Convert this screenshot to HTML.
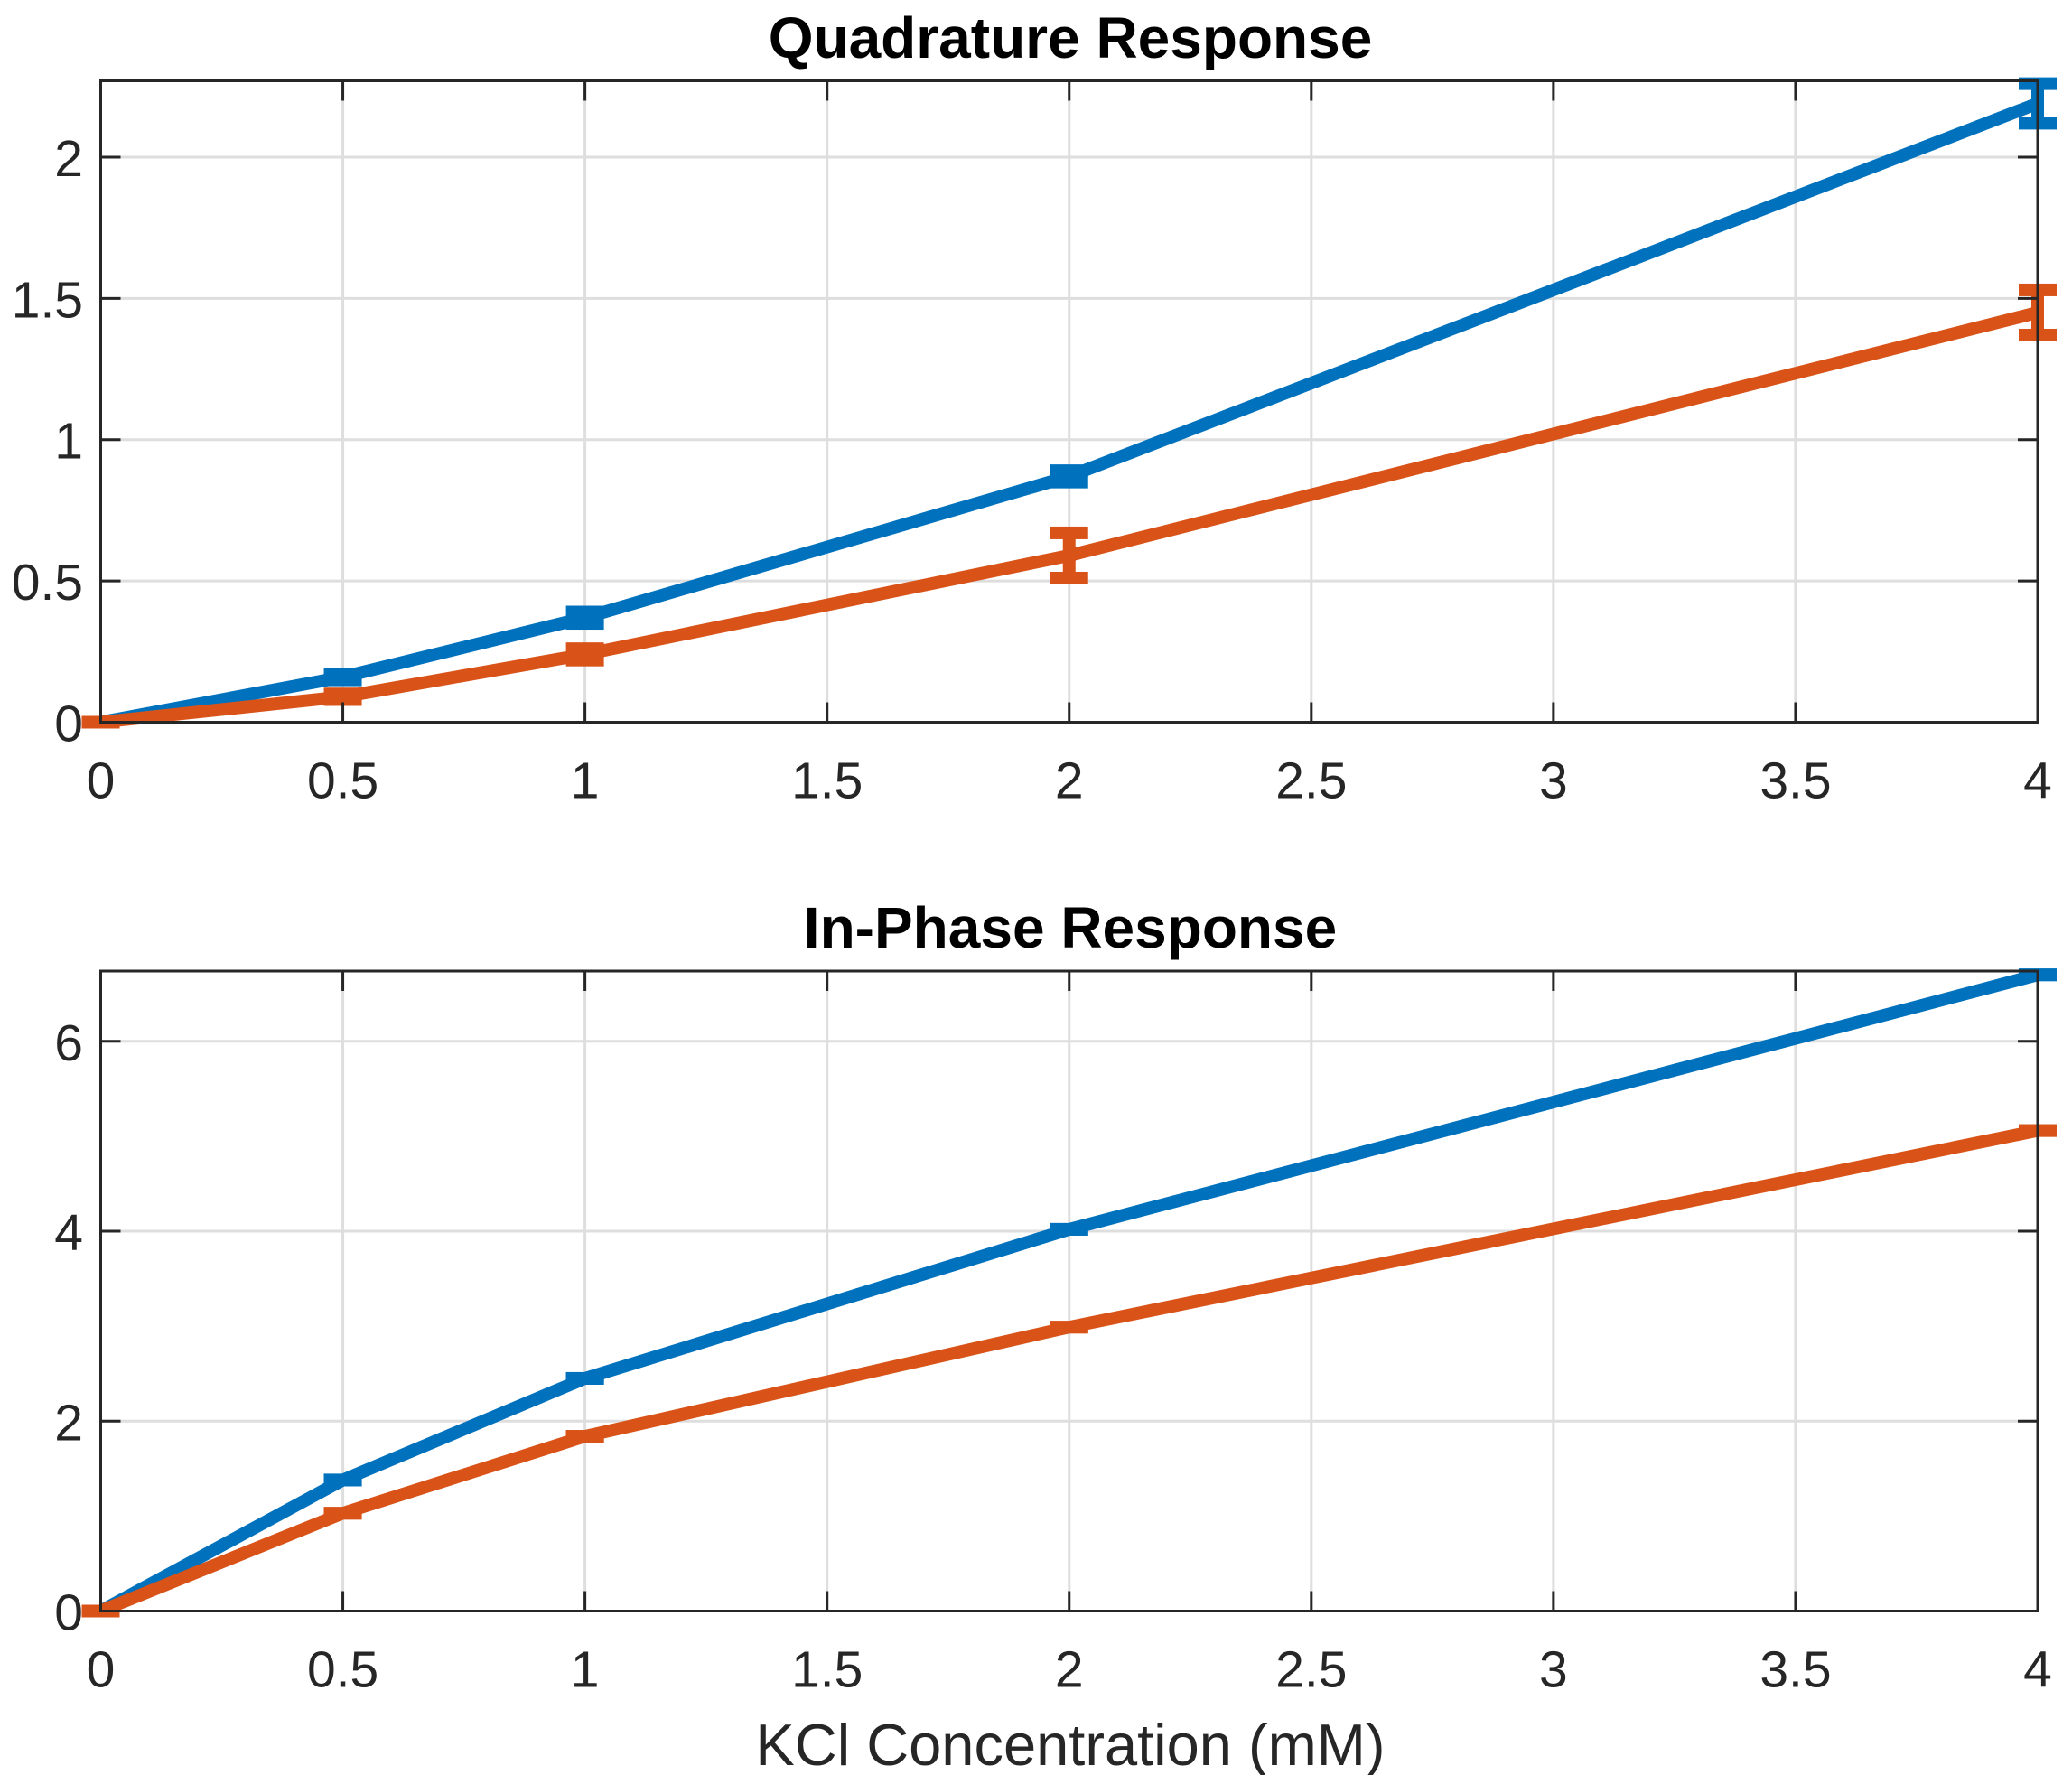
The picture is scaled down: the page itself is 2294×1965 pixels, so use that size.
<!DOCTYPE html>
<html><head><meta charset="utf-8"><style>
html,body{margin:0;padding:0;background:#fff;}
svg{display:block;font-family:"Liberation Sans",Arial,sans-serif;}
</style></head><body>
<svg id="chart" width="2294" height="1965" viewBox="0 0 2294 1965" xmlns="http://www.w3.org/2000/svg"></svg>
<script>
const xValues = [0, 0.5, 1, 2, 4];
const quadBlue = [0, 0.16, 0.37, 0.87, 2.19];
const quadBlueErr = [0, 0.01, 0.02, 0.02, 0.07];
const quadOrange = [0, 0.09, 0.24, 0.59, 1.45];
const quadOrangeErr = [0, 0.01, 0.02, 0.08, 0.08];
const phaseBlue = [0, 1.38, 2.45, 4.02, 6.7];
const phaseOrange = [0, 1.03, 1.84, 2.99, 5.06];
const xTicks = [0, 0.5, 1, 1.5, 2, 2.5, 3, 3.5, 4];
const xTickLabels = ["0","0.5","1","1.5","2","2.5","3","3.5","4"];
const quadYTicks = [0, 0.5, 1, 1.5, 2];
const quadYTickLabels = ["0","0.5","1","1.5","2"];
const phaseYTicks = [0, 2, 4, 6];
const phaseYTickLabels = ["0","2","4","6"];

const NS = "http://www.w3.org/2000/svg";
const svg = document.getElementById("chart");
const BLUE = "#0072BD", ORANGE = "#D95319";
function mk(tag, attrs, parent) {
  const e = document.createElementNS(NS, tag);
  for (const k in attrs) e.setAttribute(k, attrs[k]);
  (parent || svg).appendChild(e);
  return e;
}
function panel(cfg) {
  const g = mk("g", {});
  
  
  const L = 111.5, R = 2256, T = cfg.top, B = cfg.bottom;
  const sx = v => L + (v - 0) / 4 * (R - L);
  const sy = v => B - v / cfg.ymax * (B - T);
  xTicks.forEach(t => {
    const l = mk("line", {x1: sx(t), x2: sx(t), y1: T, y2: B, stroke: "#dedede", "stroke-width": 3}, g);
    
    
  });
  cfg.yTicks.forEach(t => {
    const l = mk("line", {x1: L, x2: R, y1: sy(t), y2: sy(t), stroke: "#dedede", "stroke-width": 3}, g);
    
    
  });
  cfg.series.forEach(s => {
    const pts = xValues.map((x, i) => sx(x) + "," + sy(s.values[i])).join(" ");
    const pl = mk("polyline", {points: pts, fill: "none", stroke: s.color, "stroke-width": 14, "stroke-linejoin": "round"}, g);
    
    
    xValues.forEach((x, i) => {
      const e = s.err ? s.err[i] : 0.0;
      const cx = sx(x);
      const yTop = sy(s.values[i] + e), yBot = sy(s.values[i] - e);
      const eg = mk("g", {}, g);
      
      
      mk("line", {x1: cx, x2: cx, y1: yTop, y2: yBot, stroke: s.color, "stroke-width": 14}, eg);
      mk("rect", {x: cx - 21, y: yTop - 7, width: 42, height: 14, fill: s.color}, eg);
      mk("rect", {x: cx - 21, y: yBot - 7, width: 42, height: 14, fill: s.color}, eg);
    });
  });
  const box = mk("rect", {x: L, y: T, width: R - L, height: B - T, fill: "none", stroke: "#262626", "stroke-width": 3}, g);
  
  
  xTicks.forEach((t, i) => {
    mk("line", {x1: sx(t), x2: sx(t), y1: B, y2: B - 22, stroke: "#262626", "stroke-width": 3}, g);
    mk("line", {x1: sx(t), x2: sx(t), y1: T, y2: T + 22, stroke: "#262626", "stroke-width": 3}, g);
    const tx = mk("text", {x: sx(t), y: B + 84, "text-anchor": "middle", "font-size": 57, fill: "#262626"}, g);
    tx.textContent = xTickLabels[i];
    
    
  });
  cfg.yTicks.forEach((t, i) => {
    mk("line", {x1: L, x2: L + 22, y1: sy(t), y2: sy(t), stroke: "#262626", "stroke-width": 3}, g);
    mk("line", {x1: R, x2: R - 22, y1: sy(t), y2: sy(t), stroke: "#262626", "stroke-width": 3}, g);
    const ty = mk("text", {x: 92, y: sy(t) + 21, "text-anchor": "end", "font-size": 57, fill: "#262626"}, g);
    ty.textContent = cfg.yTickLabels[i];
    
    
  });
  const title = mk("text", {x: 1185, y: cfg.titleY, "text-anchor": "middle", "font-size": 64, "font-weight": "bold", fill: "#000"}, g);
  title.textContent = cfg.title;
  
  
}
panel({name: "quadrature-panel", top: 89.5, bottom: 799.5, ymax: 2.27, yTicks: quadYTicks, yTickLabels: quadYTickLabels,
  title: "Quadrature Response", titleY: 64,
  series: [{name: "quadrature-blue", values: quadBlue, err: quadBlueErr, color: BLUE},
           {name: "quadrature-orange", values: quadOrange, err: quadOrangeErr, color: ORANGE}]});
panel({name: "in-phase-panel", top: 1075, bottom: 1783.5, ymax: 6.74, yTicks: phaseYTicks, yTickLabels: phaseYTickLabels,
  title: "In-Phase Response", titleY: 1049,
  series: [{name: "in-phase-blue", values: phaseBlue, color: BLUE},
           {name: "in-phase-orange", values: phaseOrange, color: ORANGE}]});
const xl = mk("text", {x: 1185, y: 1954, "text-anchor": "middle", "font-size": 65, fill: "#262626"});
xl.textContent = "KCl Concentration (mM)";


</script>
</body></html>
